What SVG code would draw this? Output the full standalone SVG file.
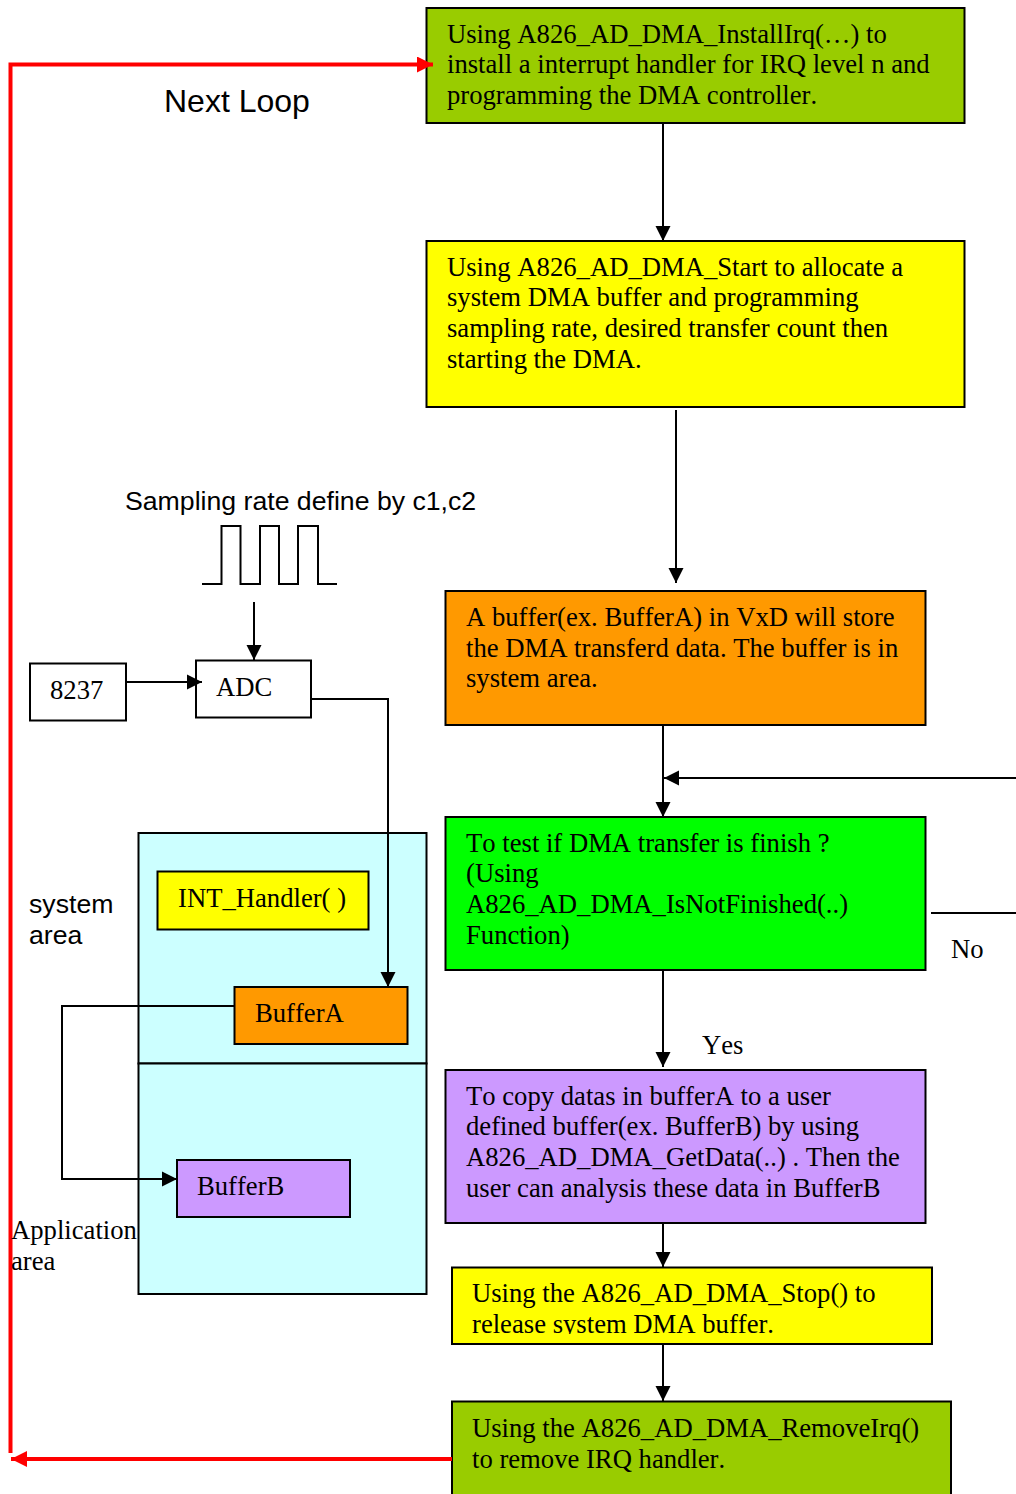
<svg xmlns="http://www.w3.org/2000/svg" width="1016" height="1494" viewBox="0 0 1016 1494">
<defs>
<marker id="k" markerUnits="userSpaceOnUse" markerWidth="16" markerHeight="16" refX="15" refY="8" orient="auto"><path d="M0 0.500L15 8L0 15.500Z" fill="#000"/></marker>
<marker id="r" markerUnits="userSpaceOnUse" markerWidth="18" markerHeight="18" refX="16" refY="8" orient="auto"><path d="M0 0L16 8L0 16Z" fill="#f00"/></marker>
<clipPath id="line-clip"><rect x="460" y="1305" width="400" height="29"/></clipPath>
</defs>
<style>
.b{stroke:#000;stroke-width:2}
.t{font-family:"Liberation Serif",serif;font-size:26.67px;fill:#000;font-kerning:none}
.s{font-family:"Liberation Sans",sans-serif;font-size:26.67px;fill:#000}
.c{fill:none;stroke:#000;stroke-width:2}
.k{marker-end:url(#k)}
.r{fill:none;stroke:#f00;stroke-width:4}
</style>
<rect width="1016" height="1494" fill="#fff"/>
<g id="area-system"><rect class="b" x="138.500" y="833" width="288" height="230.500" fill="#ccffff"/><text class="s" x="29" y="912.500">system</text><text class="s" x="29" y="943.500">area</text></g>
<g id="area-application"><rect class="b" x="138.500" y="1063.500" width="288" height="230.500" fill="#ccffff"/></g>
<g id="n1"><rect class="b" x="426.500" y="8" width="538" height="115" fill="#99cc00"/><text class="t" x="447" y="42.500">Using A826_AD_DMA_InstallIrq(…) to</text><text class="t" x="447" y="72.500">install a interrupt handler for IRQ level n and</text><text class="t" x="447" y="103.500">programming the DMA controller.</text></g>
<g id="n2"><rect class="b" x="426.500" y="241" width="538" height="166" fill="#ffff00"/><text class="t" x="447" y="275.500">Using A826_AD_DMA_Start to allocate a</text><text class="t" x="447" y="305.500">system DMA buffer and programming</text><text class="t" x="447" y="336.500">sampling rate, desired transfer count then</text><text class="t" x="447" y="367.500">starting the DMA.</text></g>
<g id="n3"><rect class="b" x="445.500" y="591" width="480" height="134" fill="#ff9900"/><text class="t" x="466" y="625.500">A buffer(ex. BufferA) in VxD will store</text><text class="t" x="466" y="656.500">the DMA transferd data. The buffer is in</text><text class="t" x="466" y="686.500">system area.</text></g>
<g id="n4"><rect class="b" x="445.500" y="817" width="480" height="153" fill="#00ff00"/><text class="t" x="466" y="851.500">To test if DMA transfer is finish ?</text><text class="t" x="466" y="881.500">(Using</text><text class="t" x="466" y="912.500">A826_AD_DMA_IsNotFinished(..)</text><text class="t" x="466" y="943.500">Function)</text></g>
<g id="n5"><rect class="b" x="445.500" y="1070" width="480" height="153" fill="#cc99ff"/><text class="t" x="466" y="1104.500">To copy datas in bufferA to a user</text><text class="t" x="466" y="1134.500">defined buffer(ex. BufferB) by using</text><text class="t" x="466" y="1165.500">A826_AD_DMA_GetData(..) . Then the</text><text class="t" x="466" y="1196.500">user can analysis these data in BufferB</text></g>
<g id="n6"><rect class="b" x="452" y="1267.500" width="480" height="76.500" fill="#ffff00"/><text class="t" x="472" y="1301.500">Using the A826_AD_DMA_Stop() to</text><text class="t" x="472" y="1332.500" clip-path="url(#line-clip)">release system DMA buffer.</text></g>
<g id="n7"><rect class="b" x="452" y="1401.500" width="499" height="96" fill="#99cc00"/><text class="t" x="472" y="1436.500">Using the A826_AD_DMA_RemoveIrq()</text><text class="t" x="472" y="1467.500">to remove IRQ handler.</text></g>
<g id="n8237"><rect class="b" x="30" y="663.500" width="96" height="57" fill="#fff"/><text class="t" x="50" y="698.500">8237</text></g>
<g id="adc"><rect class="b" x="196" y="660.500" width="115" height="57" fill="#fff"/><text class="t" x="216" y="695.500">ADC</text></g>
<g id="int"><rect class="b" x="157.500" y="871.500" width="211" height="58" fill="#ffff00"/><text class="t" x="178" y="906.500">INT_Handler( )</text></g>
<g id="bufa"><rect class="b" x="234.500" y="987" width="173" height="57" fill="#ff9900"/><text class="t" x="255" y="1021.500">BufferA</text></g>
<g id="bufb"><rect class="b" x="177" y="1160" width="173" height="57" fill="#cc99ff"/><text class="t" x="197" y="1194.500">BufferB</text></g>
<g id="connectors">
<path class="c k" d="M663 123V241"/>
<path class="c k" d="M676 410V583"/>
<path class="c k" d="M663 725V817"/>
<path class="c k" d="M1016 778H664"/>
<path class="c" d="M931 913H1016"/>
<path class="c k" d="M663 970V1067"/>
<path class="c k" d="M663 1223V1267"/>
<path class="c k" d="M663 1344V1401"/>
<path class="c k" d="M254 602V660"/>
<path class="c k" d="M126 682H202"/>
<path class="c k" d="M311 699H388V987"/>
<path class="c k" d="M234 1006H62V1179H177"/>
<path class="c" d="M202 584H221.500V526H240.500V584H260V526H279V584H298V526H318V584H337"/>
<path class="r" d="M10.500 1453V64.500H433" marker-end="url(#r)"/>
<path class="r" d="M452 1459H11" marker-end="url(#r)"/>
</g>
<g id="labels">
<text class="t" x="11" y="1238.500">Application</text><text class="t" x="11" y="1269.500">area</text>
<text class="s" x="164" y="112" style="font-size:32px">Next Loop</text>
<text class="s" x="125" y="510">Sampling rate define by c1,c2</text>
<text class="t" x="951" y="957.500">No</text>
<text class="t" x="702" y="1053.500">Yes</text>
</g>
</svg>
